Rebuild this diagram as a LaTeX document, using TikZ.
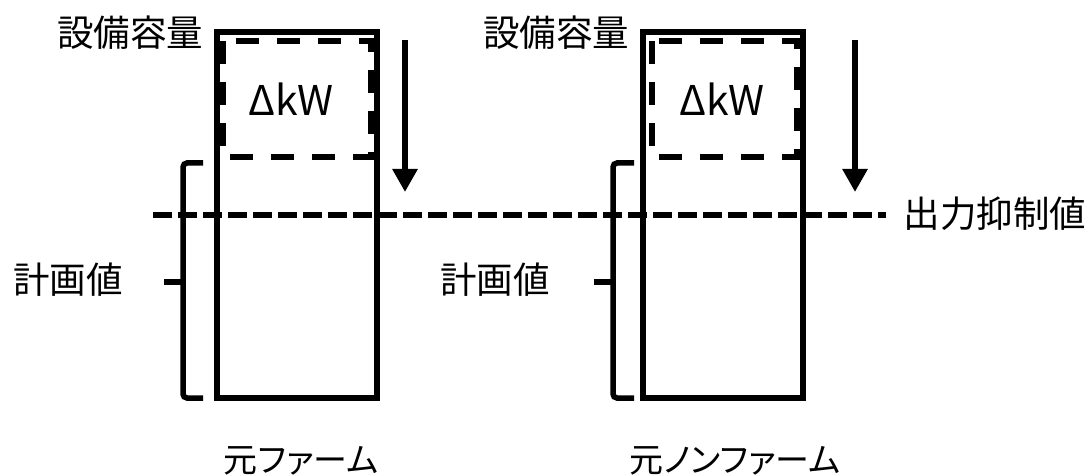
\documentclass[tikz,border=0pt]{standalone}
\usepackage{fontspec}
\setmainfont{Noto Sans CJK JP}
\newfontfamily\palt[RawFeature=+palt]{Noto Sans CJK JP}
\usetikzlibrary{arrows.meta}
\begin{document}
\begin{tikzpicture}[x=1pt,y=-1pt,
  lbl/.style={inner sep=0pt,anchor=center,font=\fontsize{36.5}{40}\selectfont},
  big/.style={inner sep=0pt,anchor=center,font=\fontsize{41}{44}\selectfont},
  kana/.style={inner sep=0pt,anchor=center,font=\palt\fontsize{34}{40}\selectfont},
  outerbox/.style={draw,line width=6pt},
  dbox/.style={draw,line width=5.5pt,dash pattern=on 23pt off 18pt},
  limitline/.style={line width=6pt,dash pattern=on 19pt off 6pt},
  bracket/.style={line width=5.5pt,rounded corners=4pt},
  downarrow/.style={line width=6pt,-{Triangle[length=23pt,width=24pt]}}]
\useasboundingbox (0,0) rectangle (1090,476);
% boxes
\draw[outerbox] (217,32) rectangle (377,398);
\draw[outerbox] (643,32) rectangle (803,398);
\draw[dbox] (223,41) rectangle (371,157);
\draw[dbox] (652,41) rectangle (797,157);
% limit line
\coordinate (ls) at (153,215);
\coordinate (le) at (886,215);
\draw[limitline] (ls) -- (le);
% arrows
\coordinate (a1s) at (405,40);
\coordinate (a1e) at (405,192);
\coordinate (a2s) at (855,40);
\coordinate (a2e) at (855,192);
\draw[downarrow] (a1s) -- (a1e);
\draw[downarrow] (a2s) -- (a2e);
% brackets
\draw[bracket] (203,163) -- (183,163) -- (183,398) -- (203,398);
\draw[line width=5.5pt] (164,282) -- (183,282);
\draw[bracket] (634,163) -- (613,163) -- (613,398) -- (634,398);
\draw[line width=5.5pt] (594,282) -- (613,282);
% labels
\node[lbl] (capL) at (130,33) {設備容量};
\node[lbl] (capR) at (556,33) {設備容量};
\node[big] (dkwL) at (291,99) {ΔkW};
\node[big] (dkwR) at (722,99) {ΔkW};
\node[lbl] (planL) at (68,280) {計画値};
\node[lbl] (planR) at (495,280) {計画値};
\node[lbl] (lim) at (995,214) {出力抑制値};
\node[kana] (firm) at (301,461) {元ファーム};
\node[kana] (nonfirm) at (735,461) {元ノンファーム};
\end{tikzpicture}
\end{document}
